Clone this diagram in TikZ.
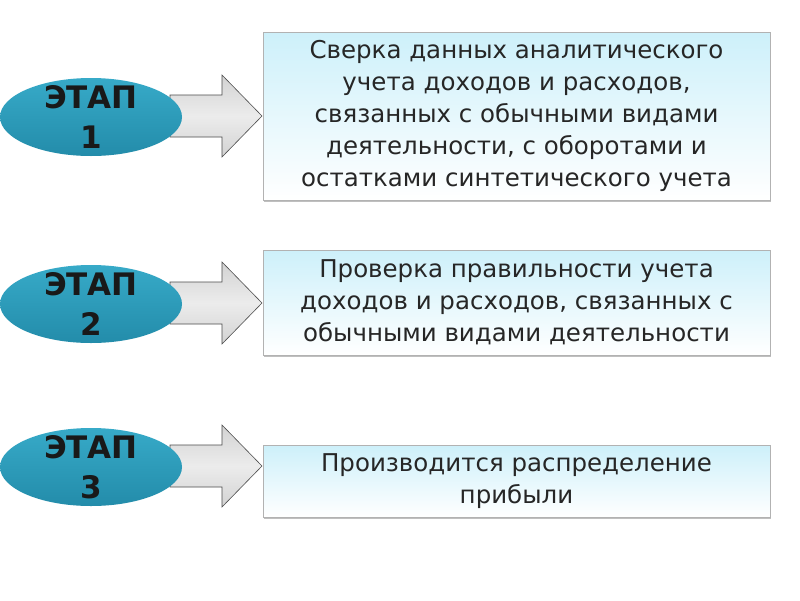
\documentclass[tikz,border=0pt]{standalone}
\usepackage{fontspec}
\setmainfont{DejaVu Sans}
\usetikzlibrary{shapes.geometric,shadows}
\definecolor{tealA}{RGB}{35,140,170}
\definecolor{tealB}{RGB}{55,170,200}
\definecolor{boxA}{RGB}{205,240,250}
\begin{document}
\begin{tikzpicture}[x=1pt,y=-1pt,
  stagebg/.style={top color=tealB,bottom color=tealA},
  stage/.style={align=center,inner sep=0pt,font=\bfseries\fontsize{31}{40}\selectfont,text=black!90},
  txtbox/.style={draw=gray!60,line width=1pt,top color=boxA,bottom color=white,align=center,font=\fontsize{24.5}{32}\selectfont,text=black!85,inner sep=0pt,drop shadow={shadow xshift=1pt,shadow yshift=-2pt,opacity=0.5}},
  arr/.style={draw=black!70,line width=0.6pt,top color=gray!35,bottom color=gray!35,middle color=gray!15}]
\fill[white] (0,0) rectangle (800,600);
\foreach \y/\h [count=\i] in {116/41, 303/41, 466/41}{
  \path[arr] (170,\y-21) -- (222,\y-21) -- (222,\y-\h) -- (262,\y) -- (222,\y+\h) -- (222,\y+21) -- (170,\y+21) -- cycle;
  \path[stagebg] (91,\y+1) ellipse [x radius=91, y radius=39];
}
\node[stage] (s1) at (91,117) {ЭТАП\\1};
\node[stage] (s2) at (91,304) {ЭТАП\\2};
\node[stage] (s3) at (91,467) {ЭТАП\\3};
\node[txtbox,minimum width=507pt,minimum height=168pt] (b1) at (516.5,116) {Сверка данных аналитического\\учета доходов и расходов,\\связанных с обычными видами\\деятельности, с оборотами и\\остатками синтетического учета};
\node[txtbox,minimum width=507pt,minimum height=105pt] (b2) at (516.5,302.5) {Проверка правильности учета\\доходов и расходов, связанных с\\обычными видами деятельности};
\node[txtbox,minimum width=507pt,minimum height=72pt] (b3) at (516.5,481) {Производится распределение\\прибыли};
\end{tikzpicture}
\end{document}
